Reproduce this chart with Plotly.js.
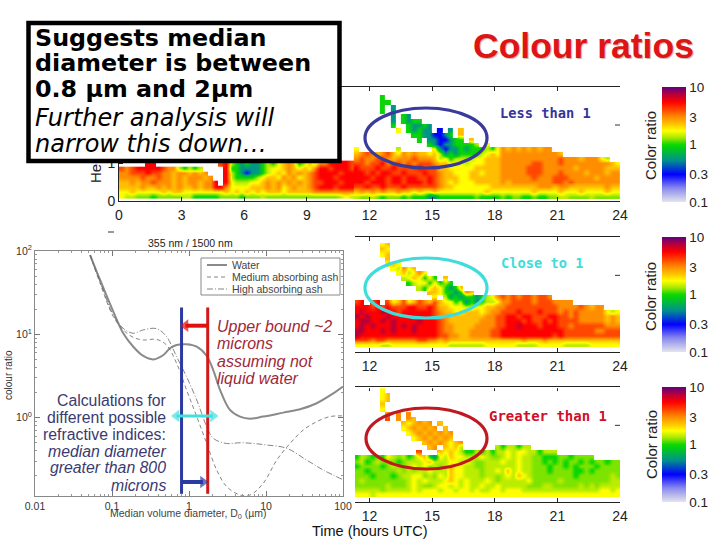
<!DOCTYPE html>
<html><head><meta charset="utf-8">
<script src="https://cdn.plot.ly/plotly-3.0.1.min.js"></script>
<style>html,body{margin:0;padding:0;background:#fff}</style></head>
<body><div id="chart" style="width:720px;height:540px"></div>
<script>
// ---------- calculation curves (median volume diameter, um / colour ratio)
const waterD = [0.052,0.07,0.104,0.14,0.189,0.255,0.344,0.465,0.567,0.69,0.93,1.26,1.7,2.07,2.53,3.4,4.6,6.2,9.2,16.8,27.7,45.5,75,100];
const waterR = [89.5,45,18.7,10.3,7.1,5.5,5.0,5.65,6.8,7.45,7.6,7.1,5.5,3.7,2.15,1.24,1.03,0.97,1.03,1.15,1.26,1.49,1.96,2.36];
const mediumD = [0.052,0.07,0.104,0.14,0.189,0.255,0.38,0.51,0.69,0.93,1.26,1.7,2.29,3.08,4.6,6.2,9.2,13.8,20.5,30.5,45.5,67.8,100];
const mediumR = [89.5,41,16.3,11.3,9.2,8.55,8.7,7.45,4.5,2.15,1.03,0.49,0.235,0.149,0.118,0.118,0.163,0.31,0.49,0.71,0.895,1.03,1.05];
const highD = [0.052,0.07,0.104,0.14,0.189,0.255,0.38,0.51,0.69,0.93,1.26,1.7,2.07,3.08,4.6,6.8,10.2,18.5,33.7,55.6,100];
const highR = [89.5,43,17,11.8,10.3,11.3,11.7,9.4,5.4,3.1,1.63,0.78,0.565,0.49,0.5,0.49,0.47,0.43,0.31,0.235,0.18];
const lowerBound = [0.8,0.8];
const upperBound = [1.75,1.75];
const boundRange = [21,0.122];
const seriesNames = ['Water','Medium absorbing ash','High absorbing ash'];
// annotation arrows on the calculation panel (diameter, ratio)
const upperArrowD = [1.75,0.9],  upperArrowR = [12.7,12.7];
const lowerArrowD = [0.8,1.52],  lowerArrowR = [0.169,0.169];
const spanArrowD  = [0.69,2.05], spanArrowR  = [1.05,1.05];

// ---------- colour ratio axes
const hourTicks = [0,3,6,9,12,15,18,21,24];
const hourTicksRight = [12,15,18,21,24];
const barTicks = [-1,-0.523,0,0.477,1];
const barLabels = ['0.1','0.3','1','3','10'];
// colour ratio read for each letter in the curtain grids below ('.' = no signal)
const ratioKey = {b:0.3,t:0.55,g:0.95,k:1.22,l:1.4,y:1.75,a:2.3,o:3,r:4,d:5.5,m:7.5};

// Upper panel, 0 - 11.25 h, lowest 8 height rows, top row first
const upperLeft = [
".....dd... .........r dlgtgttglg yaoaglaloo ddddr",
"rordddddro olglgl.... dggttttgly yaoayayodd rdddr",
"oorrrdrroo aooaoao... dlgtbttgly ayoaoaordd ddrdd",
"oooorooroo aoaoooao.. dlgggglyaa yoaoyaordd drddd",
"aaoaoorooo aoaooaood. dylllyyaoa oaoaoaorrd ddrdd",
"aaaaoaaoao aoaaoaoodd oyyyyaaaoa oyaoaaordd drddd",
"yyayyyyyay aayyyyyyyy ayayayayaa ayaaaaaooo ooooo",
"yllkkkgkkk kkllgggggk kkkgkkklkk kkkkkkkkkk kklyl"];

// Upper panel, 11.25 - 24 h, 24 height rows, top row first
const upperRight = [
".......... .......... .......... .......... .......... .",
".......... .......... .......... .......... .......... .",
".....g.... .......... .......... .......... .......... .",
".....gg... .......... .......... .......... .......... .",
".....g.t.. .......... .......... .......... .......... .",
".....g.t.. .......... .......... .......... .......... .",
".......t.g t......... .......... .......... .......... .",
".......t.g tgg....... .......... .......... .......... .",
".......g.. gttgt..... .......... .......... .......... .",
"........y. gtgtt.b.t. a......... .......... .......... .",
".......... .ggttbbtg. a......... .......... .......... .",
".......... ..g.ttbbtg g.a....... .......... .......... .",
".......... ....gtbttg gggl.y.... .......... .......... .",
"y.......l. .....ytbtt gtggglgyoa oaoaoaoo.. .......... .",
"aoroaorayo aoaayaltgt gggglyayoo oooooooooa .......... .",
"oroorroaoo oroooalygl lllyyaaaoo ooooooooor oooaoooyl. .",
"rrorrdorro rorrroaayy ylyyyaaaoo oooorrooor oooooooooa y",
"drrrdrrdrr rrdrrraayy yyyaaaaaoo ooorrroooo ooaoooooaa a",
"ddrdrddrrd rrrdrroaay yyaayaaaoo ooorrrooor ooooaoooao o",
"dddrddrddr ddrrdroaaa yyaaaaaaoo oooorooorr roooooaooo o",
"ddrdddrddr dddrdroaya yyyaaaaaoa oooooooorr oroooooooo o",
"rrdrrdrrrd rrrrrroaay yyyyyyaaaa aaaaaoooao oaaaaaaaoa a",
"aoaoaoaaoa ayayyayyyy yyyyyayyyy yyyyayyyya yyyayyyyay y",
"lkklkgkkkg kgggttgggg gggkggggkg kkggkggkkl lkkkklkkkk k"];

// Middle panel, 11.25 - 24 h
const middleRows = [
".......... .......... .......... .......... .......... .",
".......... .......... .......... .......... .......... .",
".....ya... .......... .......... .......... .......... .",
".....ay... .......... .......... .......... .......... .",
".....ya... .......... .......... .......... .......... .",
"......a... .......... .......... .......... .......... .",
"......yay. .......... .......... .......... .......... .",
".......ylo ya........ .......... .......... .......... .",
"........ya lyoy...... .......... .......... .......... .",
".........l yaygyg.a.. .......... .......... .......... .",
".......... glyygyglg. .......... .......... .......... .",
".......... ..lgyaygtg a......... .......... .......... .",
".......... ....aayggt goa....... .......... .......... .",
".......... .....y.ltg tggtglyoro rorrorro.. .......... .",
"rd.rd.ryar yaroarayyg ltgtgllyoo rrrrorrroo oo........ .",
"dddrdrdrrr ddrrdraayy yllyyaaoor rrrrrrrrro oooroaoo.. .",
"dmdddmddrd dddddroaay yaaayaoorr rdrrrdrrro roroooooyl y",
"mdmdddmddd mddddrooaa aaaaaoorrd drddrrrddr roroooooao a",
"dmmddmdmdd ddmdddroaa aaaaooorrd ddrdrrdrdr rrroooooao a",
"dmdmdddmdm dmddddrooa aaaoooorrd dmdddrdddr rorrrrrroo o",
"mmdddmdmdd dmddddrooa aaoooorrdd dddddddddd rrrrrroorr r",
"mddddddddd ddddddrroo aaoooorrdd ddddddddrd rrrrrrrrrr r",
"rrrorroooo oorrooaoaa aaaaaaaaaa aaoaaaoaaa aaaaaaaaaa a",
"yyyyyllyyy yyyyyyyyll lllllyyyyy yllllyyyyy lllllyyyyy y"];

// Lower panel, 11.25 - 24 h
const lowerRows = [
".......... .......... .......... .......... .......... .",
".....y.... .......... .......... .......... .......... .",
".....ya... .......... .......... .......... .......... .",
".....ya... .......... .......... .......... .......... .",
".....a.... .......... .......... .......... .......... .",
".....y.... .......... .......... .......... .......... .",
"......o.o. o......... .......... .......... .......... .",
"......r.o. oa........ .......... .......... .......... .",
".........a yaoao.a... .......... .......... .......... .",
".........y aoaoao.a.. .......... .......... .......... .",
".......... yaoaoaoao. .......... .......... .......... .",
".......... .yaoaoaoa. .......... .......... .......... .",
".......... ...aoaoaya o......... .......... .......... .",
".......... ....ao.aya l......lgl lgll...... .......... .",
".......... ..r...ayay lgglglglly lyyllglll. .......... .",
"glkgkgylkl gkyagtylay ylllylkkly lyllkkgggk kgkkkk.... .",
"klgklkkkgk lllyalllyy lylkklllyl lyllkkgkgk gkkgkgkkgk k",
"gkkkkgklkk lylyklklay yllkklllll lyllkkkgkk gkgkkkgkkk k",
"kkgkkkkklk lkllylllay ylllkllyla lyllkkkgkk kkggkgkkkk k",
"kkkgkkkgkl lyyklkylay ylllkllkly laylkkkkkk kkgkkkkkkl k",
"klkkkkkkkk lylylllyay lylllylkll lllykkkkkl kkkkkkkkkl l",
"kkkkkklkkk lylkklyyly lyllyllyll lllkkkllkk kkklklklll l",
"lllllkllll lylyyylyyl yylyllyyly yyllllllll lllllllyyl y",
"yyylyyyyyy yyyyyyyyyy yyyyyyyyyy yyyyyyyyyy yyyyyyyyyy y"];

// ---------- helpers
const W = 720, H = 540;
const px = v => v / W, py = v => 1 - v / H;
const decode = rows => rows.slice().reverse().map(r =>
  r.replace(/ /g,'').split('').map(c => c in ratioKey ? Math.log10(ratioKey[c]) : null));

const ratioScale = [[0,'#e4e4ec'],[0.12,'#8a8aee'],[0.24,'#0000ff'],[0.36,'#008f90'],[0.46,'#00c820'],[0.5,'#10d800'],
 [0.56,'#a8e800'],[0.62,'#ffff00'],[0.68,'#ffc000'],[0.74,'#ff8c00'],[0.8,'#ff4800'],[0.87,'#ff0000'],[0.94,'#b00040'],[1,'#600080']];

function curtain(rows, ax, x0, y0, barTop) {
  const t = {type:'heatmap', z:decode(rows), x0:x0, dx:0.25, y0:y0, dy:0.125, zsmooth:'best',
    xaxis:'x'+ax, yaxis:'y'+ax, zmin:-1, zmax:1, colorscale:ratioScale, hoverongaps:false, showscale:barTop!==null};
  if (barTop !== null) t.colorbar = {x:px(662), xanchor:'left', y:py(barTop), yanchor:'top', len:115/H, lenmode:'fraction',
    thickness:24, thicknessmode:'pixels', xpad:0, ypad:0, outlinewidth:0, tickvals:barTicks, ticktext:barLabels,
    ticks:'', ticklabelposition:'outside', tickfont:{family:'Liberation Sans',size:13.5,color:'#222'}};
  return t;
}
const curve = (x,y,name,line) => ({type:'scatter',mode:'lines',x:x,y:y,name:name,xaxis:'x4',yaxis:'y4',line:line,showlegend:false});
const arrow = (x,y,name,color,w,symbols,sizes) => ({type:'scatter',mode:'lines+markers',x:x,y:y,name:name,xaxis:'x4',yaxis:'y4',
  line:{color:color,width:w},marker:{color:color,symbol:symbols,size:sizes,line:{width:0}},showlegend:false,cliponaxis:false});

const traces = [
  curtain(upperLeft,'',0.125,0.125,null),
  curtain(upperRight,'',11.375,0.125,87),
  curtain(middleRows,'2',11.375,0.19,237),
  curtain(lowerRows,'3',11.375,0.19,387),
  curve(waterD,waterR,seriesNames[0],{color:'#8a8a8a',width:2,shape:'spline'}),
  curve(mediumD,mediumR,seriesNames[1],{color:'#666',width:0.8,dash:'4px,3px',shape:'spline'}),
  curve(highD,highR,seriesNames[2],{color:'#666',width:0.8,dash:'6px,2px,1px,2px',shape:'spline'}),
  curve(lowerBound,boundRange,'Lower bound',{color:'#2a3aa0',width:3}),
  curve(upperBound,boundRange,'Upper bound',{color:'#d01818',width:3}),
  arrow(spanArrowD,spanArrowR,'Span','#40e0e0',3,['triangle-left','triangle-right'],[11,11]),
  arrow(upperArrowD,upperArrowR,'Upper arrow','#e01010',4,['circle','triangle-left'],[0,11]),
  arrow(lowerArrowD,lowerArrowR,'Lower arrow','#2a3aa0',4,['circle','triangle-right'],[0,11])
];

const label = (text,x,y,size,color,o={}) => Object.assign({text:text,xref:'paper',yref:'paper',x:px(x),y:py(y),
  xanchor:'left',yanchor:'middle',showarrow:false,borderpad:0,
  font:{family:o.family||'Liberation Sans',size:size,color:color}},o.extra||{});
const red='#a02838', navy='#3a3a70';
const italic = (t)=>'<i>'+t+'</i>';
const bold = (t)=>'<b>'+t+'</b>';
const boxFont = 'DejaVu Sans', stamp='DejaVu Sans Mono';
const annotations = [
  label(bold('Suggests median'),33.5,38,23.8,'#000',{family:boxFont}),
  label(bold('diameter is between'),33.5,63,23.8,'#000',{family:boxFont}),
  label(bold('0.8 µm and 2µm'),33.5,89,23.8,'#000',{family:boxFont}),
  label(italic('Further analysis will'),33.5,118,24,'#000',{family:boxFont}),
  label(italic('narrow this down…'),33.5,144,24,'#000',{family:boxFont}),
  label(bold('Colour ratios'),583,46,35.5,'#e01414',{extra:{xanchor:'center'}}),
  label(bold('Less than 1'),499,113,13.7,'#34349a',{family:stamp}),
  label(bold('Close to 1'),500,263,13.7,'#40dcdc',{family:stamp}),
  label(bold('Greater than 1'),488,416,14,'#d01028',{family:stamp}),
  label('He',96,174,15,'#222',{extra:{xanchor:'center',textangle:-90}}),
  label('Color ratio',650,146,15,'#222',{extra:{xanchor:'center',textangle:-90}}),
  label('Color ratio',650,297,15,'#222',{extra:{xanchor:'center',textangle:-90}}),
  label('Color ratio',651,445,15,'#222',{extra:{xanchor:'center',textangle:-90}}),
  label('Time (hours UTC)',311,531,14.5,'#111'),
  label('355 nm / 1500 nm',190,243,10.5,'#222',{extra:{xanchor:'center'}}),
  label('colour ratio',8,375,10,'#333',{extra:{xanchor:'center',textangle:-90}}),
  label('Median volume diameter, D<sub>0</sub> (µm)',188,514,10.5,'#444',{extra:{xanchor:'center'}}),
  label(seriesNames[0],231,265,10.5,'#444'),
  label(seriesNames[1],231,277,10.5,'#444'),
  label(seriesNames[2],231,289,10.5,'#444'),
  label(italic('Upper bound ~2'),216,326,16,red),
  label(italic('microns'),216,343,16,red),
  label(italic('assuming not'),216,361,16,red),
  label(italic('liquid water'),216,378,16,red),
  label('Calculations for',167,400,15.8,navy,{extra:{xanchor:'right'}}),
  label('different possible',167,417,15.8,navy,{extra:{xanchor:'right'}}),
  label('refractive indices:',167,434,15.8,navy,{extra:{xanchor:'right'}}),
  label(italic('median diameter'),167,451,15.8,navy,{extra:{xanchor:'right'}}),
  label(italic('greater than 800'),167,467,15.8,navy,{extra:{xanchor:'right'}}),
  label(italic('microns'),167,485,15.8,navy,{extra:{xanchor:'right'}})
];
annotations[5].font.shadow = '1px 1px 1px #c8b0b0';

const paperLine = (x0,y0,x1,y1,color,width) => ({type:'line',xref:'paper',yref:'paper',x0:px(x0),x1:px(x1),y0:py(y0),y1:py(y1),line:{color:color,width:width},layer:'above'});
const ellipse = (x0,y0,x1,y1,color) => ({type:'circle',xref:'paper',yref:'paper',x0:px(x0),x1:px(x1),y0:py(y0),y1:py(y1),line:{color:color,width:3.2},layer:'above'});
const shapes = [
  {type:'line',xref:'paper',yref:'y',x0:px(615),x1:px(620),y0:2,y1:2,line:{color:'#333',width:1}},
  {type:'line',xref:'paper',yref:'y2',x0:px(615),x1:px(620),y0:2,y1:2,line:{color:'#333',width:1}},
  {type:'line',xref:'paper',yref:'y3',x0:px(615),x1:px(620),y0:2,y1:2,line:{color:'#333',width:1}},
  paperLine(355,387.6,608,387.6,'#fff',1.4),
  paperLine(108,232,114,232,'#333',1),
  ellipse(365,108,487,168,'#3a3a9c'),
  ellipse(365,258,487,318,'#40dcdc'),
  ellipse(366,408,487,469,'#c01820'),
  {type:'rect',xref:'paper',yref:'paper',x0:px(201),x1:px(340),y0:py(258),y1:py(295),line:{color:'#888',width:1},fillcolor:'#fff',layer:'above'},
  paperLine(207,265,227,265,'#8a8a8a',2),
  paperLine(207,277,227,277,'#666',0.8),
  paperLine(207,289,227,289,'#666',0.8),
  {type:'rect',xref:'paper',yref:'paper',x0:px(28.5),x1:px(339.5),y0:py(23),y1:py(161),line:{color:'#000',width:4.5},fillcolor:'#fff',layer:'above'}
];
shapes[10].line.dash='4px,3px'; shapes[11].line.dash='6px,2px,1px,2px';

const tickFont = {family:'Liberation Sans',size:14,color:'#222'};
const hourAxis = (a,b,ticks) => ({domain:[px(a),px(b)],range:[(a-119)/20.875,24],tickmode:'array',tickvals:ticks,
  ticks:'inside',ticklen:4,tickcolor:'#222',showline:true,linecolor:'#222',linewidth:1,mirror:'ticks',showgrid:false,zeroline:false,
  tickfont:tickFont,ticklabelstandoff:1});
const heightAxis = (top,bottom) => ({domain:[py(bottom),py(top)],range:[0,3],showgrid:false,zeroline:false,showticklabels:false,ticks:'',showline:false});

const layout = {
  width:W,height:H,margin:{l:0,r:0,t:0,b:0},paper_bgcolor:'#fff',plot_bgcolor:'rgba(0,0,0,0)',showlegend:false,
  font:{family:'Liberation Sans'},
  xaxis:Object.assign(hourAxis(119,620,hourTicks),{anchor:'y'}),
  yaxis:{domain:[py(201),py(87)],range:[0,3],anchor:'x',tickmode:'array',tickvals:[0,1],ticktext:['0','1'],ticks:'inside',ticklen:4,tickcolor:'#222',
    showline:true,linecolor:'#222',linewidth:1,showgrid:false,zeroline:false,tickfont:tickFont},
  xaxis2:Object.assign(hourAxis(355,620,hourTicksRight),{anchor:'y2'}),
  yaxis2:Object.assign(heightAxis(237,352),{anchor:'x2'}),
  xaxis3:Object.assign(hourAxis(355,620,hourTicksRight),{anchor:'y3'}),
  yaxis3:Object.assign(heightAxis(387,502),{anchor:'x3'}),
  xaxis4:{domain:[px(35),px(343)],type:'log',range:[-2,2],anchor:'y4',dtick:1,exponentformat:'none',ticks:'inside',ticklen:5,tickcolor:'#777',
    minor:{dtick:'D1',ticks:'inside',ticklen:2,tickcolor:'#999',showgrid:false},
    showline:true,linecolor:'#888',linewidth:1,mirror:'ticks',showgrid:false,zeroline:false,tickfont:{family:'Liberation Sans',size:10.5,color:'#333'}},
  yaxis4:{domain:[py(496),py(251)],type:'log',range:[-0.94,2],anchor:'x4',tickmode:'array',tickvals:[1,10,100],
    ticktext:['10<sup>0</sup>','10<sup>1</sup>','10<sup>2</sup>'],ticks:'inside',ticklen:5,tickcolor:'#777',
    minor:{dtick:'D1',ticks:'inside',ticklen:2,tickcolor:'#999',showgrid:false},
    showline:true,linecolor:'#888',linewidth:1,mirror:'ticks',showgrid:false,zeroline:false,tickfont:{family:'Liberation Sans',size:10.5,color:'#333'}},
  shapes:shapes,annotations:annotations
};
Plotly.newPlot('chart',traces,layout,{displayModeBar:false,staticPlot:true});
</script></body></html>
